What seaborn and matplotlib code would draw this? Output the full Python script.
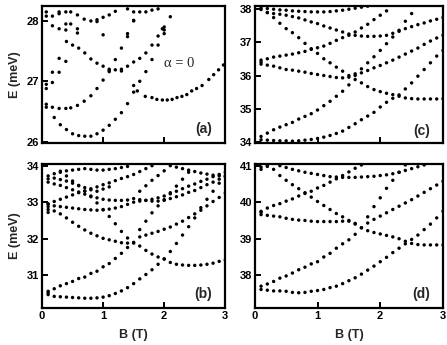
import numpy as np
import pandas as pd
import matplotlib
matplotlib.use("Agg")
import matplotlib.pyplot as plt
import seaborn as sns

# ---------------- data (B in T, E in meV) ----------------
# panel (a)
a_low_B = [0.2,0.3,0.4,0.5,0.6,0.7,0.8,0.9,1.0,1.1,1.2,1.3,1.4,1.5,1.6,1.7,1.8,1.9,2.0,2.1]
a_low_E = [26.40,26.28,26.20,26.13,26.10,26.09,26.09,26.13,26.19,26.27,26.37,26.48,26.63,26.82,27.00,27.16,27.36,27.60,27.85,28.07]
a_2nd_B = [0.07,0.07,0.17,0.28,0.39,0.47,0.58,0.69,0.8,0.9,1.0,1.1,1.2,1.3,1.4,1.5]
a_2nd_E = [26.62,26.57,26.57,26.55,26.55,26.56,26.60,26.67,26.76,26.88,27.02,27.18,27.36,27.55,27.74,28.00]
a_rgt_B = [1.5,1.56,1.69,1.8,1.88,1.97,2.05,2.13,2.21,2.29,2.37,2.45,2.53,2.62,2.73,2.81,2.89,2.97]
a_rgt_E = [26.93,26.84,26.75,26.73,26.70,26.69,26.69,26.70,26.73,26.75,26.78,26.84,26.88,26.93,27.03,27.11,27.19,27.27]
a_mid_B = [0.4,0.5,0.6,0.7,0.8,0.9,1.0,1.1,1.1,1.2,1.3,1.3,1.4,1.5,1.6,1.7,1.8,1.9,2.0]
a_mid_E = [27.66,27.60,27.55,27.47,27.37,27.30,27.25,27.20,27.16,27.19,27.20,27.17,27.25,27.32,27.38,27.47,27.60,27.75,27.90]
a_top_B = [0.07,0.07,0.17,0.28,0.28,0.39,0.47,0.58,0.69,0.8,0.9,0.9,1.0,1.1,1.2,1.4,1.5,1.6,1.7,1.8,1.9,
           0.17,0.28,0.39,0.39,0.47,0.58,0.58,0.07,0.07,0.17,0.17,0.28,0.28,0.39,1.0,1.4,1.5,1.97,2.0]
a_top_E = [28.15,28.08,28.08,28.12,28.15,28.15,28.15,28.10,28.03,28.00,28.02,27.99,28.06,28.10,28.16,28.20,28.15,28.15,28.15,28.18,28.20,
           27.92,27.87,27.85,27.95,27.95,27.80,27.87,26.95,26.88,26.98,27.15,27.15,27.38,27.33,27.77,27.79,28.01,27.87,27.79]

# panel (b)
b_low_B = [0.1,0.1,0.2,0.3,0.4,0.5,0.6,0.7,0.8,0.9,1.0,1.1,1.2,1.3,1.4,1.5,1.6,1.7,1.8,1.9,2.0,2.1,2.2,2.3,2.4,2.5,2.6,2.7,2.8,2.9]
b_low_E = [30.47,30.52,30.42,30.41,30.40,30.39,30.38,30.37,30.37,30.38,30.40,30.44,30.50,30.57,30.66,30.77,30.90,31.02,31.15,31.30,31.44,31.65,31.87,32.10,32.33,32.57,32.85,33.08,33.30,33.52]
b_up_B = [0.1,0.2,0.3,0.4,0.5,0.6,0.7,0.8,0.9,1.0,1.1,1.2,1.3,1.4,1.5,1.6,1.7,1.8,1.9,2.0,2.1,2.2,2.3,2.4,2.5,2.6,2.7,2.8,2.9,3.0]
b_up_E = [30.56,30.63,30.71,30.77,30.83,30.91,30.95,31.05,31.11,31.23,31.32,31.46,31.60,31.76,31.90,32.05,32.10,32.15,32.20,32.26,32.32,32.40,32.48,32.58,32.68,32.78,32.90,33.02,33.13,33.25]
b_dn_B = [0.1,0.1,0.2,0.3,0.4,0.5,0.6,0.7,0.8,0.9,1.0,1.1,1.2,1.3,1.4,1.5,1.6,1.7,1.8,1.9,2.0,2.1,2.2,2.3,2.4,2.5,2.6,2.7,2.8,2.9,3.0]
b_dn_E = [32.80,32.72,32.76,32.68,32.57,32.45,32.34,32.24,32.15,32.08,32.01,31.97,31.93,31.89,31.88,31.88,31.80,31.68,31.58,31.50,31.45,31.35,31.30,31.28,31.27,31.27,31.28,31.30,31.33,31.38,31.42]
b_steep_B = [0.3,0.4,0.5,0.6,0.7,0.8,0.9,1.0,1.1,1.2,1.3,1.4,1.6,1.7,1.8,1.9,2.0,2.1,2.2,2.3,2.4]
b_steep_E = [33.85,33.72,33.58,33.45,33.30,33.15,32.98,32.80,32.61,32.41,32.20,32.02,32.25,32.48,32.71,32.90,33.07,33.26,33.44,33.63,33.82]
b_mid_B = [0.1,0.1,0.2,0.3,0.4,0.5,0.6,0.7,0.8,0.9,1.0,1.1,1.2,1.3,1.4,1.5,1.6,1.7,1.8,1.9,2.0,2.1,2.2,2.3,2.4,2.5,2.6,2.7,2.8,2.9,3.0]
b_mid_E = [32.88,32.95,32.90,32.88,32.86,32.84,32.82,32.80,32.79,32.78,32.79,32.81,32.84,32.88,32.94,33.00,33.03,33.05,33.08,33.12,33.17,33.23,33.30,33.37,33.44,33.50,33.57,33.63,33.70,33.76,33.82]
b_mup_B = [0.1,0.2,0.3,0.4,0.5,0.6,0.7,0.8,0.9,1.0,1.1,1.2,1.3,1.4,1.5,1.6,1.7,1.8]
b_mup_E = [32.95,33.02,33.08,33.14,33.20,33.26,33.31,33.37,33.42,33.48,33.53,33.59,33.65,33.70,33.76,33.84,33.92,34.00]
b_x_B = [1.6,1.7,1.8,1.9,2.0]
b_x_E = [33.30,33.45,33.60,33.73,33.86]
b_hdn_B = [0.1,0.2,0.3,0.4,0.5,0.6,0.7,0.8,0.9,1.0,1.1,1.2,1.3,1.4,1.5,1.6,1.7,1.8,1.9,2.0,2.1,2.2,2.3,2.4,2.5,2.6,2.7,2.8,2.9,3.0]
b_hdn_E = [33.55,33.50,33.46,33.40,33.34,33.28,33.22,33.17,33.12,33.08,33.06,33.05,33.05,33.06,33.10,33.07,33.05,33.03,33.03,33.05,33.10,33.15,33.20,33.27,33.32,33.40,33.48,33.55,33.63,33.70]
b_top_B = [0.1,0.2,0.3,0.4,0.5,0.6,0.7,0.8,0.9,1.0,1.1,1.2,1.3,1.4,0.1,0.2,0.3,0.4,0.5,0.6,0.7,0.8,0.9,1.0,1.1,2.1,2.2,2.3,2.4,2.5,2.6,2.7,2.8,2.9,3.0]
b_top_E = [33.72,33.78,33.82,33.86,33.88,33.90,33.92,33.90,33.88,33.88,33.90,33.92,33.95,33.98,33.64,33.66,33.62,33.58,33.52,33.46,33.40,33.34,33.30,33.36,33.42,34.00,33.96,33.92,33.88,33.84,33.80,33.77,33.74,33.72,33.72]

# panel (c)
c_low_B = [0.1,0.2,0.3,0.4,0.5,0.6,0.7,0.8,0.9,1.0,1.1,1.2,1.3,1.4,1.5,1.6,1.7,1.8,1.9,2.0,2.1,2.2,2.3,2.4,2.5,2.6,2.7,2.8,2.9,3.0]
c_low_E = [34.08,34.07,34.06,34.05,34.05,34.04,34.05,34.07,34.09,34.12,34.16,34.21,34.27,34.34,34.45,34.56,34.68,34.79,34.90,35.06,35.20,35.32,35.42,35.60,35.78,35.98,36.18,36.38,36.58,36.75]
c_up_B = [0.1,0.2,0.3,0.4,0.5,0.6,0.7,0.8,0.9,1.0,1.1,1.2,1.3,1.4,1.5,1.6,1.7,1.8,1.9,2.0,2.1,2.2,2.3,2.4,2.5,2.6,2.7,2.8,2.9,3.0]
c_up_E = [34.18,34.28,34.38,34.46,34.53,34.60,34.70,34.78,34.86,34.97,35.10,35.23,35.38,35.53,35.72,36.00,36.08,36.15,36.23,36.30,36.38,36.46,36.55,36.64,36.73,36.82,36.93,37.03,37.12,37.20]
c_dn_B = [0.1,0.1,0.2,0.3,0.4,0.5,0.6,0.7,0.8,0.9,1.0,1.1,1.2,1.3,1.4,1.5,1.6,1.7,1.8,1.9,2.0,2.1,2.2,2.3,2.4,2.5,2.6,2.7,2.8,2.9,3.0]
c_dn_E = [36.40,36.34,36.31,36.28,36.23,36.18,36.16,36.13,36.10,36.06,36.03,36.00,35.97,35.94,35.93,35.95,35.88,35.78,35.67,35.58,35.52,35.47,35.43,35.38,35.33,35.31,35.30,35.30,35.30,35.30,35.31]
c_mup_B = [0.1,0.2,0.3,0.4,0.5,0.6,0.7,0.8,0.9,1.0,1.1,1.2,1.3,1.4,1.5,1.6,1.7,1.8,1.9,2.0,2.1]
c_mup_E = [36.46,36.50,36.55,36.58,36.61,36.64,36.68,36.72,36.78,36.83,36.88,36.96,37.05,37.13,37.20,37.30,37.42,37.53,37.67,37.80,37.93]
c_steep_B = [0.2,0.3,0.4,0.5,0.6,0.7,0.8,0.9,1.0,1.1,1.2,1.3,1.4,1.5,1.6,1.7,1.8,1.9,2.0,2.1,2.2,2.3,2.4,2.5]
c_steep_E = [37.88,37.73,37.56,37.40,37.28,37.13,36.96,36.80,36.66,36.50,36.38,36.25,36.13,36.00,36.05,36.20,36.38,36.56,36.75,36.95,37.15,37.35,37.62,37.85]
c_mdn_B = [0.2,0.3,0.4,0.5,0.6,0.7,0.8,0.9,1.0,1.1,1.2,1.3,1.4,1.5,1.6,1.7,1.8,1.9,2.0,2.1,2.2,2.3,2.4,2.5,2.6,2.7,2.8,2.9,3.0]
c_mdn_E = [37.88,37.85,37.83,37.80,37.76,37.72,37.66,37.60,37.55,37.48,37.42,37.36,37.30,37.24,37.20,37.18,37.17,37.17,37.18,37.20,37.26,37.32,37.40,37.46,37.52,37.57,37.63,37.68,37.73]
c_top_B = [0.1,0.1,0.2,0.3,0.4,0.5,0.6,0.7,0.8,0.9,1.0,1.1,1.2,1.3,1.4,1.5,1.6,1.7,1.8]
c_top_E = [38.02,37.97,38.00,37.98,37.96,37.95,37.93,37.92,37.91,37.90,37.90,37.90,37.91,37.93,37.95,37.98,38.01,38.04,38.07]

# panel (d)
d_low_B = [0.1,0.2,0.3,0.4,0.5,0.6,0.7,0.8,0.9,1.0,1.1,1.2,1.3,1.4,1.5,1.6,1.7,1.8,1.9,2.0,2.1,2.2,2.3,2.4,2.5,2.6,2.7,2.8,2.9,3.0]
d_low_E = [37.61,37.59,37.57,37.57,37.56,37.53,37.52,37.53,37.56,37.58,37.61,37.66,37.70,37.77,37.85,37.93,38.03,38.14,38.25,38.37,38.49,38.62,38.74,38.86,38.98,39.10,39.25,39.40,39.57,39.75]
d_up_B = [0.1,0.2,0.3,0.4,0.5,0.6,0.7,0.8,0.9,1.0,1.1,1.2,1.3,1.4,1.5,1.6,1.7,1.8,1.9,2.0,2.1,2.2,2.3,2.4,2.5,2.6,2.7,2.8,2.9,3.0]
d_up_E = [37.70,37.76,37.83,37.92,37.98,38.06,38.15,38.22,38.31,38.37,38.50,38.60,38.74,38.86,38.97,39.12,39.30,39.43,39.53,39.62,39.71,39.80,39.89,39.98,40.07,40.17,40.27,40.37,40.47,40.57]
d_dn_B = [0.1,0.1,0.2,0.3,0.4,0.5,0.6,0.7,0.8,0.9,1.0,1.1,1.2,1.3,1.4,1.5,1.6,1.7,1.8,1.9,2.0,2.1,2.2,2.3,2.4,2.5,2.6,2.7,2.8,2.9,3.0]
d_dn_E = [39.72,39.66,39.64,39.62,39.60,39.56,39.53,39.51,39.50,39.48,39.47,39.47,39.47,39.47,39.48,39.48,39.42,39.30,39.22,39.17,39.13,39.09,39.05,39.00,38.93,38.87,38.84,38.83,38.83,38.83,38.83]
d_mup_B = [0.1,0.2,0.3,0.4,0.5,0.6,0.7,0.8,0.9,1.0,1.1,1.2,1.3,1.4,1.5,1.6,1.7]
d_mup_E = [39.75,39.84,39.91,39.96,40.03,40.09,40.17,40.24,40.30,40.39,40.46,40.55,40.64,40.73,40.83,40.93,41.02]
d_steep_B = [0.2,0.3,0.4,0.5,0.6,0.7,0.8,0.9,1.0,1.1,1.2,1.3,1.4,1.5,1.6,1.8,1.9,2.0,2.1,2.2,2.3,2.4]
d_steep_E = [41.00,40.90,40.73,40.60,40.48,40.37,40.26,40.14,40.02,39.91,39.80,39.69,39.60,39.50,39.40,39.60,39.88,40.12,40.38,40.60,40.82,41.02]
d_mdn_B = [0.1,0.1,0.2,0.4,0.5,0.6,0.7,0.8,0.9,1.0,1.1,1.2,1.3,1.4,1.5,1.6,1.7,1.8,1.9,2.0,2.1,2.2,2.3,2.4,2.5,2.6,2.7]
d_mdn_E = [40.96,40.90,40.98,41.00,40.95,40.90,40.86,40.82,40.79,40.76,40.73,40.70,40.69,40.68,40.68,40.68,40.69,40.70,40.71,40.73,40.75,40.78,40.82,40.87,40.92,40.97,41.02]

panels = {
    "a": [(a_low_B, a_low_E), (a_2nd_B, a_2nd_E), (a_rgt_B, a_rgt_E), (a_mid_B, a_mid_E), (a_top_B, a_top_E)],
    "b": [(b_low_B, b_low_E), (b_up_B, b_up_E), (b_dn_B, b_dn_E), (b_steep_B, b_steep_E), (b_mid_B, b_mid_E),
          (b_mup_B, b_mup_E), (b_x_B, b_x_E), (b_hdn_B, b_hdn_E), (b_top_B, b_top_E)],
    "c": [(c_low_B, c_low_E), (c_up_B, c_up_E), (c_dn_B, c_dn_E), (c_mup_B, c_mup_E),
          (c_steep_B, c_steep_E), (c_mdn_B, c_mdn_E), (c_top_B, c_top_E)],
    "d": [(d_low_B, d_low_E), (d_up_B, d_up_E), (d_dn_B, d_dn_E), (d_mup_B, d_mup_E),
          (d_steep_B, d_steep_E), (d_mdn_B, d_mdn_E)],
}
ylims = {"a": (25.98, 28.25), "b": (30.1, 34.05), "c": (33.99, 38.08), "d": (37.1, 41.05)}
yticks = {"a": [26, 27, 28], "b": [31, 32, 33, 34], "c": [34, 35, 36, 37, 38], "d": [38, 39, 40, 41]}

sns.set_theme(style="ticks")
plt.rcParams["font.family"] = ["Liberation Sans", "DejaVu Sans"]

fig = plt.figure(figsize=(4.47, 3.45), dpi=100)
axes = {
    "a": fig.add_axes([0.094, 0.586, 0.410, 0.397]),
    "c": fig.add_axes([0.570, 0.586, 0.421, 0.397]),
    "b": fig.add_axes([0.094, 0.107, 0.410, 0.418]),
    "d": fig.add_axes([0.570, 0.107, 0.421, 0.418]),
}

for key, ax in axes.items():
    frames = []
    for Bs, Es in panels[key]:
        frames.append(pd.DataFrame({"B": Bs, "E": Es}))
    df = pd.concat(frames, ignore_index=True)
    sns.scatterplot(data=df, x="B", y="E", ax=ax, color="black", s=6, edgecolor="none", linewidth=0)
    ax.set_xlim(0, 3)
    ax.set_ylim(*ylims[key])
    ax.set_yticks(yticks[key])
    ax.set_xticks([0, 1, 2, 3])
    for sp in ax.spines.values():
        sp.set_linewidth(1.6)
        sp.set_color("black")
    ax.tick_params(direction="in", length=4, width=1.4, labelsize=8, pad=2, colors="black")
    for lab in ax.get_yticklabels() + ax.get_xticklabels():
        lab.set_fontweight("bold")
    ax.set_xlabel("")
    ax.set_ylabel("")

axes["a"].set_xticklabels([])
axes["c"].set_xticklabels([])
axes["a"].set_ylabel("E (meV)", fontsize=9, fontweight="bold", labelpad=4)
axes["b"].set_ylabel("E (meV)", fontsize=9, fontweight="bold", labelpad=4)
axes["b"].set_xlabel("B (T)", fontsize=9, fontweight="bold", labelpad=6)
axes["d"].set_xlabel("B (T)", fontsize=9, fontweight="bold", labelpad=6)

axes["a"].text(0.93, 0.07, "(a)", transform=axes["a"].transAxes, ha="right", fontsize=10, fontweight="bold")
axes["c"].text(0.93, 0.06, "(c)", transform=axes["c"].transAxes, ha="right", fontsize=10, fontweight="bold")
axes["b"].text(0.93, 0.07, "(b)", transform=axes["b"].transAxes, ha="right", fontsize=10, fontweight="bold")
axes["d"].text(0.93, 0.07, "(d)", transform=axes["d"].transAxes, ha="right", fontsize=10, fontweight="bold")
axes["a"].text(0.665, 0.555, "\u03b1 = 0", transform=axes["a"].transAxes, fontsize=10.5,
               family=["Liberation Serif", "DejaVu Serif"])

fig.savefig("out.png", dpi=100)
